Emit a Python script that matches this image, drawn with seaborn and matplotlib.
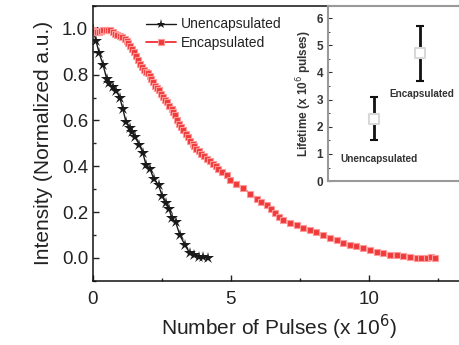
import numpy as np
import matplotlib
matplotlib.use('Agg')
import matplotlib.pyplot as plt
import seaborn as sns
from matplotlib.ticker import MultipleLocator

# ── DATA ─────────────────────────────────────────────────────
unenc_x = [0.0, 0.11, 0.23, 0.37, 0.50, 0.59, 0.72, 0.85, 0.98, 1.09, 1.20, 1.33,
           1.43, 1.53, 1.68, 1.81, 1.92, 2.07, 2.20, 2.38, 2.51, 2.63, 2.76, 2.86,
           3.00, 3.15, 3.33, 3.51, 3.67, 3.84, 4.00, 4.18]
unenc_y = [1.0, 0.948, 0.893, 0.842, 0.781, 0.762, 0.745, 0.730, 0.697, 0.648, 0.591, 0.568,
           0.548, 0.527, 0.494, 0.459, 0.407, 0.388, 0.346, 0.317, 0.270, 0.238, 0.212, 0.173,
           0.155, 0.100, 0.057, 0.020, 0.013, 0.006, 0.003, 0.0]

enc_x = [0.0, 0.07, 0.13, 0.22, 0.30, 0.38, 0.47, 0.55, 0.62, 0.71, 0.80, 0.89, 0.98,
         1.07, 1.16, 1.22, 1.28, 1.34, 1.40, 1.48, 1.56, 1.63, 1.70, 1.78, 1.86, 1.93,
         2.00, 2.06, 2.12, 2.18, 2.25, 2.32, 2.40, 2.47, 2.55, 2.62, 2.70, 2.77, 2.85,
         2.91, 2.97, 3.05, 3.12, 3.20, 3.27, 3.36, 3.45, 3.53, 3.61, 3.68, 3.75, 3.84,
         3.93, 4.02, 4.12, 4.24, 4.36, 4.45, 4.54, 4.69, 4.84, 4.96, 5.20, 5.45, 5.70,
         5.93, 6.10, 6.29, 6.45, 6.59, 6.75, 6.90, 7.15, 7.38, 7.62, 7.86, 8.10, 8.35,
         8.60, 8.83, 9.07, 9.31, 9.55, 9.80, 10.04, 10.28, 10.52, 10.76, 11.00, 11.24,
         11.48, 11.73, 11.90, 12.09, 12.25, 12.39]
enc_y = [0.994, 0.99, 0.988, 0.985, 0.99, 0.993, 0.994, 0.994, 0.994, 0.985, 0.977, 0.973, 0.970,
         0.962, 0.955, 0.948, 0.940, 0.926, 0.912, 0.898, 0.883, 0.864, 0.846, 0.833, 0.820, 0.813,
         0.806, 0.793, 0.780, 0.766, 0.752, 0.742, 0.733, 0.717, 0.701, 0.690, 0.680, 0.665, 0.651,
         0.636, 0.622, 0.604, 0.586, 0.571, 0.557, 0.542, 0.527, 0.512, 0.498, 0.487, 0.477, 0.466,
         0.455, 0.444, 0.433, 0.422, 0.412, 0.401, 0.390, 0.375, 0.360, 0.339, 0.321, 0.303, 0.281,
         0.259, 0.244, 0.230, 0.212, 0.194, 0.180, 0.165, 0.154, 0.143, 0.132, 0.122, 0.111, 0.100,
         0.089, 0.078, 0.067, 0.057, 0.050, 0.042, 0.035, 0.028, 0.020, 0.013, 0.011, 0.009,
         0.005, 0.0, 0.0, 0.0, 0.002, 0.001]

inset_labels = ['Unencapsulated', 'Encapsulated']
inset_pos = [1, 2]
lifetime = [2.3, 4.7]
lifetime_err = [0.8, 1.0]

# ── STYLE ────────────────────────────────────────────────────
sns.set_style('ticks')
plt.rcParams['font.family'] = ['Liberation Sans', 'DejaVu Sans']
plt.rcParams['xtick.direction'] = 'in'
plt.rcParams['ytick.direction'] = 'in'
txt = '#222222'

fig = plt.figure(figsize=(4.6, 3.45), dpi=100)
ax = fig.add_axes([0.202, 0.186, 0.81, 0.797])

sns.lineplot(x=unenc_x, y=unenc_y, ax=ax, sort=False, color='#1a1a1a', lw=1.0,
             marker='*', markersize=9, markeredgewidth=0, label='Unencapsulated')
sns.lineplot(x=enc_x, y=enc_y, ax=ax, sort=False, color='#ee1c24', lw=1.2,
             marker='s', markersize=5, markerfacecolor='#f03a3a',
             markeredgecolor='#ff9a9a', markeredgewidth=0.8, label='Encapsulated')

ax.set_xlim(0, 13.5)
ax.set_ylim(-0.1, 1.1)
ax.xaxis.set_major_locator(MultipleLocator(5))
ax.xaxis.set_minor_locator(MultipleLocator(2.5))
ax.yaxis.set_major_locator(MultipleLocator(0.2))
ax.yaxis.set_minor_locator(MultipleLocator(0.1))
ax.tick_params(which='major', length=4, width=1, labelsize=13.5, colors=txt)
ax.tick_params(which='minor', length=2.5, width=1)
ax.tick_params(axis='x', pad=7)
for s in ax.spines.values():
    s.set_linewidth(1.1)
    s.set_color('#111111')
ax.set_xlabel('Number of Pulses (x 10$^6$)', fontsize=15, color=txt, labelpad=4)
ax.set_ylabel('Intensity (Normalized a.u.)', fontsize=15, color=txt, labelpad=6)

leg = ax.legend(loc='upper left', bbox_to_anchor=(0.142, 0.958), frameon=False,
                fontsize=10, handlelength=2.15, handletextpad=0.35, markerscale=0.75,
                labelspacing=0.3, borderpad=0, borderaxespad=0)
for t in leg.get_texts():
    t.set_color(txt)

# ── INSET ────────────────────────────────────────────────────
ax_in = fig.add_axes([328/460, 0.475, 0.30, 0.508])
ax_in.set_facecolor('white')
ax_in.errorbar(inset_pos, lifetime, yerr=lifetime_err, fmt='none', ecolor='#111111',
               elinewidth=2, capsize=3, capthick=1.5)
sns.scatterplot(x=inset_pos, y=lifetime, ax=ax_in, marker='s', s=55,
                color='white', edgecolor='#d8d8d8', linewidth=1.5, zorder=3)
ax_in.text(1.1, 0.8, inset_labels[0], ha='center', va='center', fontsize=7.2,
           fontweight='bold', color='#333333')
ax_in.text(1.33, 3.2, inset_labels[1], ha='left', va='center', fontsize=7.2,
           fontweight='bold', color='#333333')
ax_in.set_xlim(0, 3)
ax_in.set_ylim(0, 6.45)
ax_in.set_xticks([])
ax_in.yaxis.set_major_locator(MultipleLocator(1))
ax_in.yaxis.set_minor_locator(MultipleLocator(0.5))
ax_in.tick_params(axis='y', which='major', length=3, labelsize=8.5, colors='#333333')
ax_in.tick_params(axis='y', which='minor', length=1.5)
for t in ax_in.get_yticklabels():
    t.set_fontweight('bold')
for s in ax_in.spines.values():
    s.set_linewidth(1.5)
    s.set_color('#999999')
ax_in.set_ylabel('Lifetime (x 10$^6$ pulses)', fontsize=8.5, fontweight='bold',
                 color='#333333', labelpad=2)

fig.savefig('out.png', dpi=100)
